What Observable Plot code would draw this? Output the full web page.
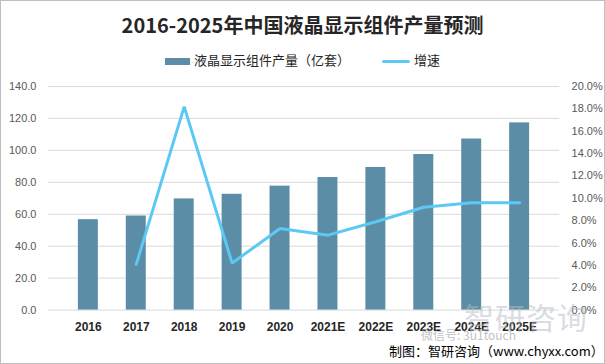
<!DOCTYPE html>
<html><head><meta charset="utf-8">
<script src="https://cdn.jsdelivr.net/npm/d3@7"></script>
<script src="https://cdn.jsdelivr.net/npm/@observablehq/plot@0.6"></script>
<style>
html,body{margin:0;padding:0;background:#fff;}
#wrap{position:relative;width:605px;height:364px;box-sizing:border-box;border:1px solid #bfbfbf;overflow:hidden;font-family:"Noto Sans CJK SC","Noto Sans",sans-serif;}
#title{position:absolute;top:12px;left:0;width:603px;text-align:center;font-size:20px;font-weight:bold;color:#262626;line-height:24px;}
#legend{position:absolute;top:49px;left:0;width:603px;text-align:center;font-size:13px;color:#262626;line-height:18px;}
#legend span.item{display:inline-block;margin:0 12px;vertical-align:middle;}
.sw{display:inline-block;vertical-align:middle;margin-right:4px;}
#chart{position:absolute;top:68px;left:-1px;}
#footer{position:absolute;left:388px;top:342px;font-size:13px;color:#000;line-height:16px;white-space:nowrap;}
#wm{position:absolute;left:463px;top:299px;font-size:30px;color:#b4bcc8;opacity:0.5;line-height:32px;letter-spacing:1px;}
#wm2{position:absolute;left:420px;top:327px;font-size:12px;color:#9a9a9a;opacity:0.6;line-height:14px;}
</style></head>
<body>
<div id="wrap">
  <div id="title">2016-2025年中国液晶显示组件产量预测</div>
  <div id="legend"></div>
  <div id="chart"></div>
  <div id="wm">智研咨询</div>
  <div id="wm2">微信号: 3u1touch</div>
  <div id="footer">制图：智研咨询（www.chyxx.com）</div>
</div>
<script>
const years = ["2016","2017","2018","2019","2020","2021E","2022E","2023E","2024E","2025E"];
const output = [56.6,58.9,69.6,72.5,77.6,83.0,89.3,97.4,107.1,117.2];
const growth = [null,4.1,18.2,4.2,7.3,6.7,7.9,9.2,9.6,9.6];
const leftTicks = [0,20,40,60,80,100,120,140];
const rightTicks = [0,2,4,6,8,10,12,14,16,18,20];
const seriesNames = ["液晶显示组件产量（亿套）","增速"];

const barColor = "#5b8ea6";
const lineColor = "#5cc9f4";
const k = 140/20;

const rows = years.map((y,i)=>({year:y, output:output[i], growth:growth[i]}));

document.getElementById("legend").innerHTML =
  `<span class="item"><span class="sw" style="width:25px;height:7px;background:${barColor}"></span>${seriesNames[0]}</span>` +
  `<span class="item" style="margin-left:20px"><span class="sw" style="width:28px;height:3px;background:${lineColor};border-radius:2px"></span>${seriesNames[1]}</span>`;

const chart = Plot.plot({
  width:605, height:275,
  marginTop:17, marginBottom:34, marginLeft:48, marginRight:45,
  style:{fontFamily:"'Liberation Sans','Noto Sans CJK SC',sans-serif", background:"transparent"},
  x:{domain:years, padding:0.59},
  y:{domain:[0,140]},
  marks:[
    Plot.ruleY(leftTicks,{stroke:"#d9d9d9", strokeWidth:1}),
    Plot.barY(rows,{x:"year", y:"output", fill:barColor}),
    Plot.lineY(rows.filter(d=>d.growth!=null),{x:"year", y:d=>d.growth*k, stroke:lineColor, strokeWidth:3, strokeLinejoin:"miter"}),
    Plot.axisX({tickSize:0, tickPadding:12, fontSize:12, fontWeight:"bold", fill:"#262626", label:null}),
    Plot.axisY({ticks:leftTicks, tickSize:0, tickPadding:12, fontSize:11, fill:"#595959", tickFormat:d=>d.toFixed(1), label:null}),
    Plot.axisY({anchor:"right", ticks:rightTicks.map(v=>v*k), tickSize:0, tickPadding:12, fontSize:11, fill:"#595959", tickFormat:d=>(d/k).toFixed(1)+"%", label:null})
  ]
});
document.getElementById("chart").appendChild(chart);
</script>
</body></html>
